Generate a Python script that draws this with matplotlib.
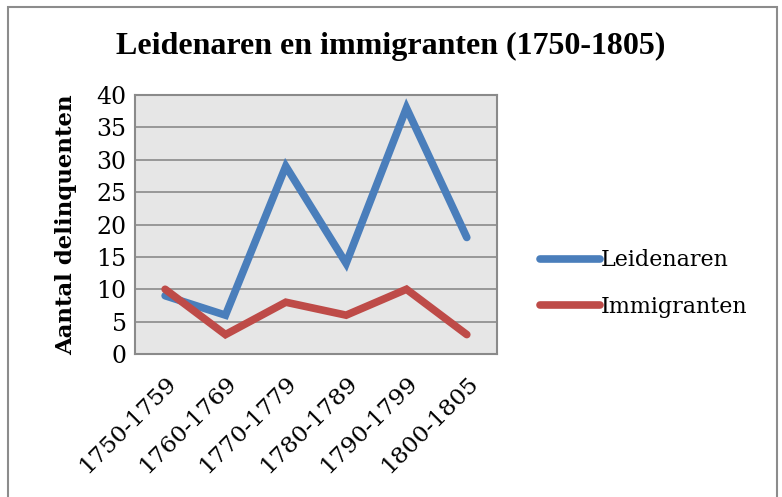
import matplotlib.pyplot as plt
from matplotlib.patches import Rectangle

periods = ['1750-1759', '1760-1769', '1770-1779', '1780-1789', '1790-1799', '1800-1805']
leidenaren = [9, 6, 29, 14, 38, 18]
immigranten = [10, 3, 8, 6, 10, 3]
yticks = [0, 5, 10, 15, 20, 25, 30, 35, 40]

plt.rcParams['font.family'] = ['DejaVu Serif']

fig = plt.figure(figsize=(7.82, 4.97), dpi=100)
ax = fig.add_axes([0.1726, 0.2877, 0.4629, 0.5211])

# rand om de hele grafiek
fig.patches.append(Rectangle((8 / 782, -0.01), 769 / 782, 1 - 7 / 497 + 0.01,
                             transform=fig.transFigure, fill=False,
                             edgecolor='#8c8c8c', linewidth=1.5))

x = list(range(len(periods)))
ax.plot(x, leidenaren, color='#4A7EBB', linewidth=5.5, solid_capstyle='round',
        solid_joinstyle='miter', label='Leidenaren', zorder=3)
ax.plot(x, immigranten, color='#BE4B48', linewidth=5.5, solid_capstyle='round',
        solid_joinstyle='miter', label='Immigranten', zorder=3)

ax.set_facecolor('#e6e6e6')
ax.set_xlim(-0.5, len(periods) - 0.5)
ax.set_ylim(0, 40)
ax.set_yticks(yticks)
ax.set_yticklabels([str(t) for t in yticks], fontsize=17)
ax.yaxis.grid(True, color='#8a8a8a', linewidth=1.2)
ax.set_axisbelow(True)
ax.tick_params(axis='both', length=0)
ax.tick_params(axis='y', pad=6)

ax.set_xticks(x)
ax.set_xticklabels(periods, fontsize=16.8, rotation=45, ha='right',
                   rotation_mode='anchor')
ax.tick_params(axis='x', pad=13)

for s in ax.spines.values():
    s.set_color('#8a8a8a')
    s.set_linewidth(1.5)

ax.set_ylabel('Aantal delinquenten', fontsize=16.5, fontweight='bold', labelpad=14)

fig.text(0.5, 0.907, 'Leidenaren en immigranten (1750-1805)', ha='center',
         va='center', fontsize=23, fontweight='bold', family='Liberation Serif')

ax.legend(loc='center left', bbox_to_anchor=(1.063, 0.272), frameon=False,
          fontsize=16, handlelength=2.7, handletextpad=0.05, labelspacing=1.1)

fig.savefig('out.png', dpi=100)
